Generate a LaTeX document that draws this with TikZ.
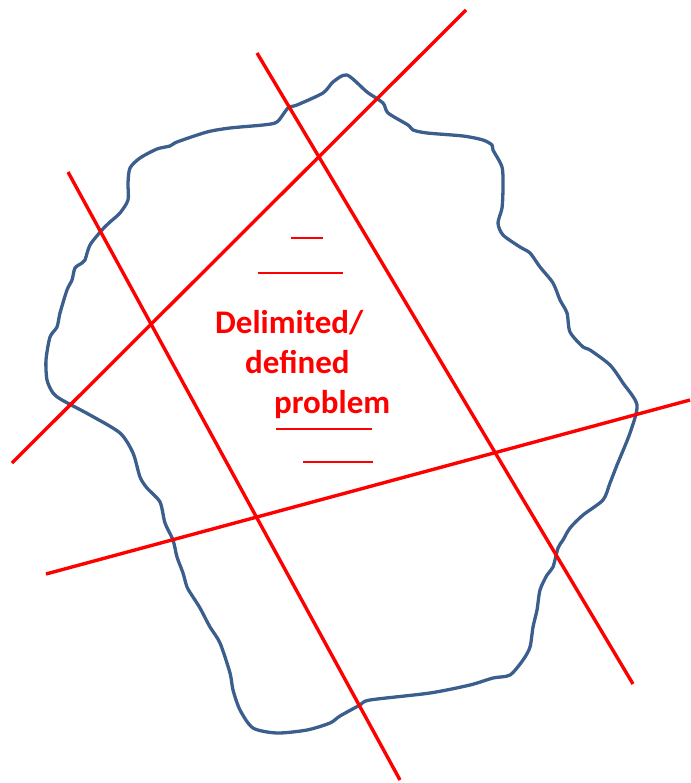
\documentclass[tikz,border=0pt]{standalone}
\usepackage{fontspec}
\setmainfont{Carlito}
\definecolor{blobblue}{HTML}{3B5E8C}
\definecolor{cutred}{HTML}{FF0000}
\begin{document}
\begin{tikzpicture}[x=1pt,y=-1pt,
  cut/.style={draw=cutred,line width=3.4pt},
  tick/.style={draw=cutred,line width=1.6pt},
  blob/.style={draw=blobblue,line width=3.3pt,line join=round},
  lbl/.style={text=cutred,font=\bfseries\fontsize{33}{40}\selectfont,anchor=base west,inner sep=0pt}]
\useasboundingbox (0,0) rectangle (690,783);
% blob outline
\draw[blob] plot[smooth cycle,tension=0.45] coordinates {
(347,75)(367,92)(383,103)(388,113)(408,125)(413,130)(427,133)(463,136)(483,140)(492,145)(493,150)
(502,167)(503,187)(502,208)(498,223)(503,235)(520,247)(530,253)(540,267)(553,283)(560,300)(567,313)
(570,332)(583,347)(590,350)(610,365)(623,383)(637,405)(630,433)(617,465)(610,483)(603,500)(583,515)
(570,528)(563,540)(558,548)(553,567)(547,575)(540,590)(537,610)(533,627)(530,647)(523,660)(510,675)
(493,678)(470,685)(430,693)(370,700)(360,705)(340,716)(330,723)(307,730)(277,733)(253,728)(240,710)
(233,690)(230,673)(220,643)(210,627)(200,608)(193,597)(187,587)(183,573)(177,557)(173,540)(165,523)
(160,502)(147,488)(140,477)(133,453)(120,433)(90,415)(62,400)(53,393)(47,380)(46,360)(50,337)
(57,327)(60,313)(67,290)(72,280)(75,268)(82,263)(85,260)(90,245)(102,230)(110,222)(120,213)
(128,200)(128,183)(130,168)(140,158)(157,149)(170,146)(177,142)(207,132)(230,128)(263,125)
(277,122)(288,108)(297,105)(323,93)(333,82)};
% cutting lines
\coordinate (a1) at (68,172);  \coordinate (a2) at (400,780);
\coordinate (b1) at (257,53);  \coordinate (b2) at (633,684);
\coordinate (c1) at (466,10);  \coordinate (c2) at (12,463);
\coordinate (d1) at (46,574);  \coordinate (d2) at (690,400);
\draw[cut] (a1) -- (a2);
\draw[cut] (b1) -- (b2);
\draw[cut] (c1) -- (c2);
\draw[cut] (d1) -- (d2);
% short ticks
\coordinate (t1a) at (291,238); \coordinate (t1b) at (323,238);
\coordinate (t2a) at (258,273); \coordinate (t2b) at (343,273);
\coordinate (t3a) at (276,429); \coordinate (t3b) at (372,429);
\coordinate (t4a) at (303,462); \coordinate (t4b) at (373,462);
\draw[tick] (t1a) -- (t1b);
\draw[tick] (t2a) -- (t2b);
\draw[tick] (t3a) -- (t3b);
\draw[tick] (t4a) -- (t4b);
% label
\node[lbl] (l1) at (215,333) {Delimited/};
\node[lbl] (l2) at (245,373) {defined};
\node[lbl] (l3) at (274,413) {problem};
\end{tikzpicture}
\end{document}
